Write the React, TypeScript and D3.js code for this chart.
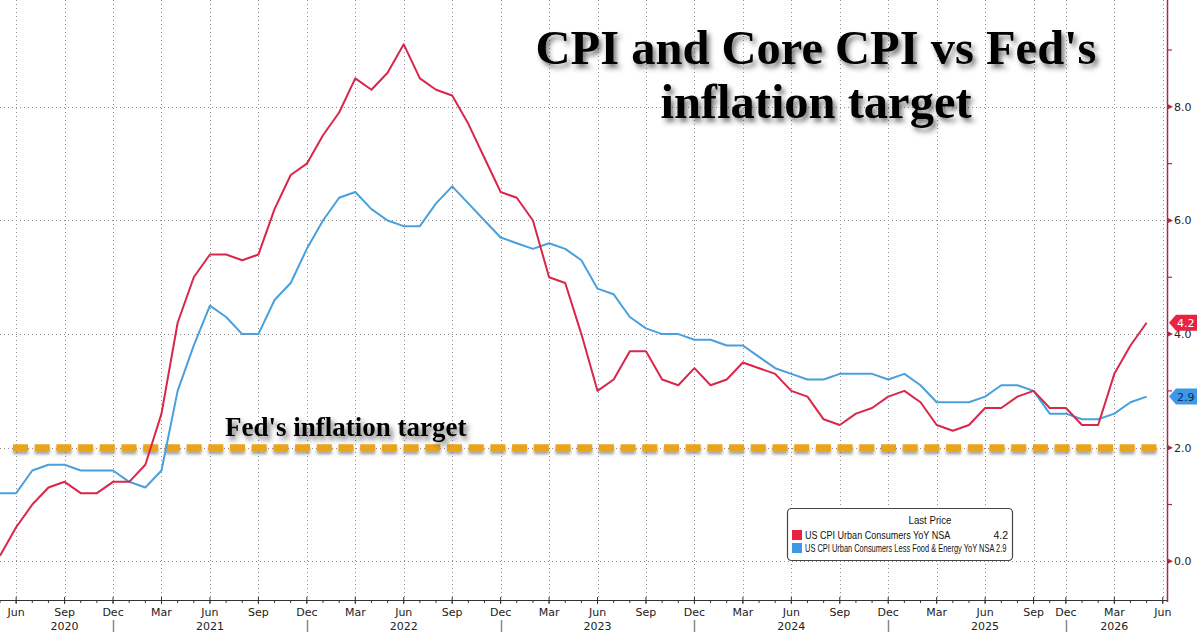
import React from 'react';
import * as d3 from 'd3';

const W = 1200;
const H = 632;

// monthly prints from May 2020; October 2025 was never published
const firstMonth = new Date(2020, 4, 1);
const lastSlot = new Date(2026, 5, 1);
const missingMonths = ['2025-10'];

const cpi = [
  0.1, 0.6, 1.0, 1.3, 1.4, 1.2, 1.2, 1.4,
  1.4, 1.7, 2.6, 4.2, 5.0, 5.4, 5.4, 5.3, 5.4, 6.2, 6.8, 7.0,
  7.5, 7.9, 8.5, 8.3, 8.6, 9.1, 8.5, 8.3, 8.2, 7.7, 7.1, 6.5,
  6.4, 6.0, 5.0, 4.9, 4.0, 3.0, 3.2, 3.7, 3.7, 3.2, 3.1, 3.4,
  3.1, 3.2, 3.5, 3.4, 3.3, 3.0, 2.9, 2.5, 2.4, 2.6, 2.7, 2.9,
  3.0, 2.8, 2.4, 2.3, 2.4, 2.7, 2.7, 2.9, 3.0, 2.7, 2.7,
  2.4, 2.4, 3.3, 3.8, 4.2,
];

const core = [
  1.2, 1.2, 1.6, 1.7, 1.7, 1.6, 1.6, 1.6,
  1.4, 1.3, 1.6, 3.0, 3.8, 4.5, 4.3, 4.0, 4.0, 4.6, 4.9, 5.5,
  6.0, 6.4, 6.5, 6.2, 6.0, 5.9, 5.9, 6.3, 6.6, 6.3, 6.0, 5.7,
  5.6, 5.5, 5.6, 5.5, 5.3, 4.8, 4.7, 4.3, 4.1, 4.0, 4.0, 3.9,
  3.9, 3.8, 3.8, 3.6, 3.4, 3.3, 3.2, 3.2, 3.3, 3.3, 3.3, 3.2,
  3.3, 3.1, 2.8, 2.8, 2.8, 2.9, 3.1, 3.1, 3.0, 2.6, 2.6,
  2.5, 2.5, 2.6, 2.8, 2.9,
];

const quarterTicks = [
  '2020-06', '2020-09', '2020-12', '2021-03', '2021-06', '2021-09', '2021-12',
  '2022-03', '2022-06', '2022-09', '2022-12', '2023-03', '2023-06', '2023-09',
  '2023-12', '2024-03', '2024-06', '2024-09', '2024-12', '2025-03', '2025-06',
  '2025-09', '2025-12', '2026-03', '2026-06',
];
const yearNames = ['2020', '2021', '2022', '2023', '2024', '2025', '2026'];
const yearLabelAt = ['2020-09', '2021-06', '2022-06', '2023-06', '2024-06', '2025-06', '2026-03'];
const yearSeparators = ['2020-12', '2021-12', '2022-12', '2023-12', '2024-12', '2025-12'];

const yMajor = [0, 2, 4, 6, 8];
const yMinor = [1, 3, 5, 7, 9];
const fedTarget = 2.0;

const seriesNames = ['US CPI Urban Consumers YoY NSA', 'US CPI Urban Consumers Less Food & Energy YoY NSA'];
const seriesColors = ['#d92649', '#49a0dd'];
const tagColors = ['#e8223f', '#3e98e6'];

const keyFmt = d3.timeFormat('%Y-%m');
const monFmt = d3.timeFormat('%b');
const slots = d3.timeMonth
  .range(firstMonth, d3.timeMonth.offset(lastSlot, 1))
  .filter(d => !missingMonths.includes(keyFmt(d)));
const slotKeys = slots.map(keyFmt);
const idx = (k: string) => slotKeys.indexOf(k);

const plotBottom = 600;
const plotRight = 1167;
const axisRed = '#a8294c';
const grid = '#8c8c8c';
const uiFont = 'Tahoma, "DejaVu Sans", sans-serif';
const legendFont = '"Liberation Sans", Arial, sans-serif';
const serif = '"Liberation Serif", "Times New Roman", serif';

export default function App() {
  const x = d3.scaleLinear().domain([0, 72.2]).range([0, plotRight - 1]);
  const y = d3.scaleLinear().domain([-0.68, 9.88]).range([plotBottom, 0]);
  const line = d3.line<number>().x((_, i) => x(i)).y(d => y(d));

  const lastVals = [cpi, core].map(s => s[s.length - 1]);
  const fy = y(fedTarget);

  return (
    <div style={{ position: 'fixed', left: 0, top: 0, width: W, height: H, background: '#fff' }}>
      <svg width={W} height={H} style={{ display: 'block' }}>
        <defs>
          <filter id="titleShadow" x="-10%" y="-30%" width="120%" height="160%">
            <feDropShadow dx="3" dy="4" stdDeviation="2.8" floodColor="#333" floodOpacity="0.65" />
          </filter>
          <filter id="lineShadow" filterUnits="userSpaceOnUse" x={0} y={fy - 20} width={W} height={40}>
            <feDropShadow dx="0" dy="3" stdDeviation="1.6" floodColor="#555" floodOpacity="0.55" />
          </filter>
          <clipPath id="plotClip">
            <rect x={0} y={0} width={plotRight} height={plotBottom} />
          </clipPath>
        </defs>

        {/* dotted grid */}
        <g stroke={grid} strokeWidth={1} strokeDasharray="1 3">
          {yMajor.map(v => (
            <line key={'h' + v} x1={0} x2={plotRight} y1={Math.round(y(v)) + 0.5} y2={Math.round(y(v)) + 0.5} />
          ))}
          {quarterTicks.map(k => (
            <line key={'v' + k} x1={Math.round(x(idx(k))) + 0.5} x2={Math.round(x(idx(k))) + 0.5} y1={0} y2={plotBottom} />
          ))}
        </g>

        {/* title */}
        <g fontFamily={serif} fontWeight="bold" fill="#000" textAnchor="middle" filter="url(#titleShadow)">
          <text x={816} y={64} fontSize={48.5}>CPI and Core CPI vs Fed's</text>
          <text x={816} y={118} fontSize={48.5}>inflation target</text>
        </g>

        {/* Fed target */}
        <line
          x1={13} x2={plotRight - 7} y1={fy} y2={fy}
          stroke="#eaa41c" strokeWidth={7} strokeDasharray="15 6.7" filter="url(#lineShadow)"
        />
        <text x={225} y={436} fontFamily={serif} fontWeight="bold" fontSize={27} fill="#000" filter="url(#titleShadow)">
          Fed's inflation target
        </text>

        {/* series */}
        <g clipPath="url(#plotClip)" fill="none" strokeWidth={2} strokeLinejoin="round">
          <path d={line(core) || ''} stroke={seriesColors[1]} />
          <path d={line(cpi) || ''} stroke={seriesColors[0]} />
        </g>

        {/* legend: names drawn narrow so the long core name fits the box */}
        <g fontFamily={legendFont} fontSize={10.5} fill="#111">
          <rect x={787.5} y={508.5} width={225} height={52} rx={4} fill="#fff" stroke="#444" strokeWidth={1.2} />
          <g transform="translate(930,524) scale(0.92,1)">
            <text textAnchor="middle">Last Price</text>
          </g>
          <rect x={792} y={530} width={10} height={10} fill={tagColors[0]} />
          <g transform="translate(805,539) scale(0.86,1)">
            <text>{seriesNames[0]}</text>
          </g>
          <text x={1008} y={539} textAnchor="end">{lastVals[0].toFixed(1)}</text>
          <rect x={792} y={543} width={10} height={10} fill={tagColors[1]} />
          <g transform="translate(805,552) scale(0.71,1)">
            <text>{seriesNames[1] + ' ' + lastVals[1].toFixed(1)}</text>
          </g>
        </g>

        {/* bottom axis */}
        <g fontFamily={uiFont} fontSize={11} fill="#222">
          <line x1={0} x2={plotRight} y1={plotBottom + 0.5} y2={plotBottom + 0.5} stroke="#333" strokeWidth={1.2} />
          {slots.map((_, i) => (
            <line key={'mt' + i} x1={x(i)} x2={x(i)} y1={plotBottom} y2={plotBottom + 3} stroke="#333" />
          ))}
          {quarterTicks.map(k => (
            <g key={'q' + k}>
              <line x1={x(idx(k))} x2={x(idx(k))} y1={plotBottom - 3} y2={plotBottom + 4} stroke="#333" />
              <text x={x(idx(k))} y={616} textAnchor="middle">{monFmt(slots[idx(k)])}</text>
            </g>
          ))}
          {yearNames.map((n, i) => (
            <text key={n} x={x(idx(yearLabelAt[i]))} y={630} textAnchor="middle">{n}</text>
          ))}
          {yearSeparators.map(k => (
            <line key={'ys' + k} x1={Math.round(x(idx(k))) + 0.5} x2={Math.round(x(idx(k))) + 0.5} y1={620} y2={H} stroke="#888" strokeWidth={1.5} />
          ))}
        </g>

        {/* right axis */}
        <g fontFamily={uiFont} fontSize={11} fill="#222">
          <line x1={plotRight + 0.5} x2={plotRight + 0.5} y1={0} y2={plotBottom + 2} stroke={axisRed} strokeWidth={1.5} />
          {yMinor.map(v => (
            <line key={'mn' + v} x1={plotRight} x2={plotRight + 5} y1={y(v)} y2={y(v)} stroke={axisRed} strokeWidth={1.2} />
          ))}
          {yMajor.map(v => (
            <g key={'mj' + v}>
              <path d={`M${plotRight},${y(v) - 3}L${plotRight + 6},${y(v)}L${plotRight},${y(v) + 3}Z`} fill={axisRed} />
              <text x={plotRight + 7} y={y(v)} dy="0.35em">{v.toFixed(1)}</text>
            </g>
          ))}
          {lastVals.map((v, i) => {
            const cy = y(v);
            return (
              <g key={'tag' + i}>
                <path
                  d={`M${plotRight + 2},${cy}L${plotRight + 9},${cy - 8}L${W - 3},${cy - 8}L${W - 3},${cy + 8}L${plotRight + 9},${cy + 8}Z`}
                  fill={tagColors[i]}
                />
                <text x={plotRight + 10} y={cy} dy="0.36em" fill={i === 0 ? '#fff' : '#0c2a5a'}>{v.toFixed(1)}</text>
              </g>
            );
          })}
        </g>
      </svg>
    </div>
  );
}
